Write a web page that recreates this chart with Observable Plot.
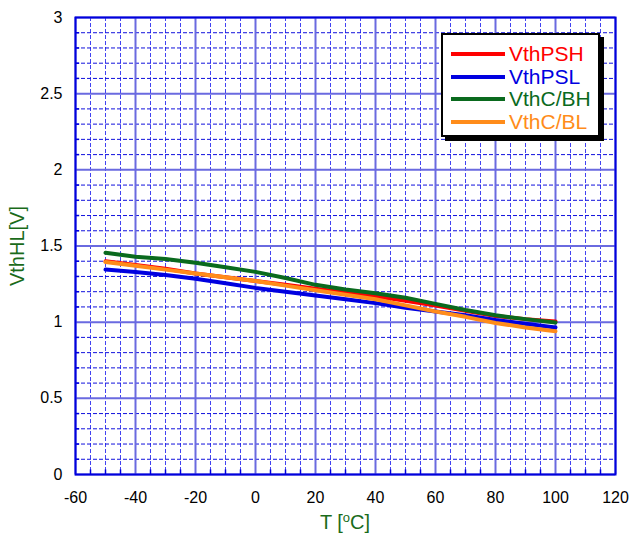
<!DOCTYPE html>
<html><head><meta charset="utf-8">
<script src="https://cdn.jsdelivr.net/npm/d3@7"></script>
<script src="https://cdn.jsdelivr.net/npm/@observablehq/plot@0.6"></script>
<style>
body{margin:0;background:#fff;font-family:"Liberation Sans",Arial,sans-serif;}
#wrap{position:relative;width:637px;height:538px;}
.lab{position:absolute;white-space:nowrap;color:#1a6b1a;font-size:20px;}
#legend{position:absolute;left:441px;top:33px;width:155px;height:100px;border:2px solid #000;background:#fff;box-shadow:4px 4px 0 #000;}
.row{position:absolute;left:0;height:22px;font-size:21px;line-height:22px;}
.row span.sw{position:absolute;left:8px;top:9px;width:54px;height:4px;}
.row span.tx{position:absolute;left:66px;top:0;}
</style></head>
<body><div id="wrap"></div>
<script>
const temps = [-50,-40,-30,-20,-10,0,10,20,30,40,50,60,70,80,90,100];
const vthPSH = [1.40,1.375,1.35,1.32,1.295,1.27,1.245,1.22,1.195,1.17,1.14,1.11,1.075,1.04,1.02,1.005];
const vthPSL = [1.345,1.33,1.31,1.285,1.255,1.225,1.20,1.175,1.15,1.125,1.095,1.07,1.045,1.015,0.99,0.965];
const vthCBH = [1.455,1.43,1.415,1.39,1.36,1.33,1.29,1.245,1.215,1.19,1.16,1.12,1.08,1.045,1.02,0.998];
const vthCBL = [1.395,1.37,1.345,1.32,1.295,1.27,1.24,1.21,1.18,1.15,1.11,1.07,1.035,0.995,0.965,0.94];
const seriesNames = ["VthPSH","VthPSL","VthC/BH","VthC/BL"];
const seriesColors = ["#ff0000","#0000e0","#0a6a1e","#ff8c1a"];
const xTicks = [-60,-40,-20,0,20,40,60,80,100,120];
const yTicks = [0,0.5,1,1.5,2,2.5,3];
const xMinor = d3.range(-55,120,5).filter(v => v % 20 !== 0);
const yMinor = d3.range(1,30).map(i => i/10).filter(v => Math.abs(v*2 - Math.round(v*2)) > 1e-6);

const allSeries = [vthPSH, vthPSL, vthCBH, vthCBL];
const rows = [];
allSeries.forEach((vals, si) => vals.forEach((v, i) => rows.push({T: temps[i], V: v, s: seriesNames[si]})));
const order = [0,1,3,2]; // draw order
const plot = Plot.plot({
  width: 637, height: 538,
  marginLeft: 75, marginRight: 22, marginTop: 17, marginBottom: 64,
  style: {fontFamily: '"Liberation Sans", Arial, sans-serif', fontSize: "16px", color: "#000", background: "#fff"},
  x: {domain: [-60,120], ticks: xTicks, tickFormat: d => String(d), tickSize: 0, tickPadding: 17, label: null},
  y: {domain: [0,3], ticks: yTicks, tickFormat: d => String(d), tickSize: 0, tickPadding: 13, label: null},
  marks: [
    Plot.ruleX(xMinor, {stroke: "#2222ee", strokeWidth: 1, strokeDasharray: "4,2", strokeOpacity: 0.85}),
    Plot.ruleY(yMinor, {stroke: "#1111dd", strokeWidth: 1, strokeDasharray: "4,2"}),
    Plot.ruleX(xTicks, {stroke: "#6a6ae0", strokeWidth: 2}),
    Plot.ruleY(yTicks, {stroke: "#6a6ae0", strokeWidth: 2}),
    Plot.ruleY(yMinor, {x1: -60, x2: -58.6, stroke: "#0000dd", strokeWidth: 1.5}),
    Plot.ruleX(xMinor, {y1: 0, y2: 0.03, stroke: "#0000dd", strokeWidth: 1.5}),
    ...order.map(si => Plot.line(rows.filter(r => r.s === seriesNames[si]), {x: "T", y: "V", stroke: seriesColors[si], strokeWidth: 4, curve: "linear"})),
    Plot.frame({stroke: "#0000dd", strokeWidth: 2})
  ]
});
const wrap = document.getElementById("wrap");
wrap.appendChild(plot);
const xl = document.createElement("div");
xl.className = "lab"; xl.innerHTML = "T [<sup style='font-size:13px'>o</sup>C]";
xl.style.left = "345px"; xl.style.top = "522px";
xl.style.transform = "translate(-50%,-50%)";
wrap.appendChild(xl);
const yl = document.createElement("div");
yl.className = "lab"; yl.textContent = "VthHL[V]";
yl.style.left = "17px"; yl.style.top = "246px";
yl.style.transform = "translate(-50%,-50%) rotate(-90deg)";
wrap.appendChild(yl);
const lg = document.createElement("div");
lg.id = "legend";
seriesNames.forEach((n, i) => {
  const r = document.createElement("div");
  r.className = "row"; r.style.top = (8 + i*22.7) + "px"; r.style.color = seriesColors[i];
  r.innerHTML = `<span class="sw" style="background:${seriesColors[i]}"></span><span class="tx">${n}</span>`;
  lg.appendChild(r);
});
wrap.appendChild(lg);
</script></body></html>
